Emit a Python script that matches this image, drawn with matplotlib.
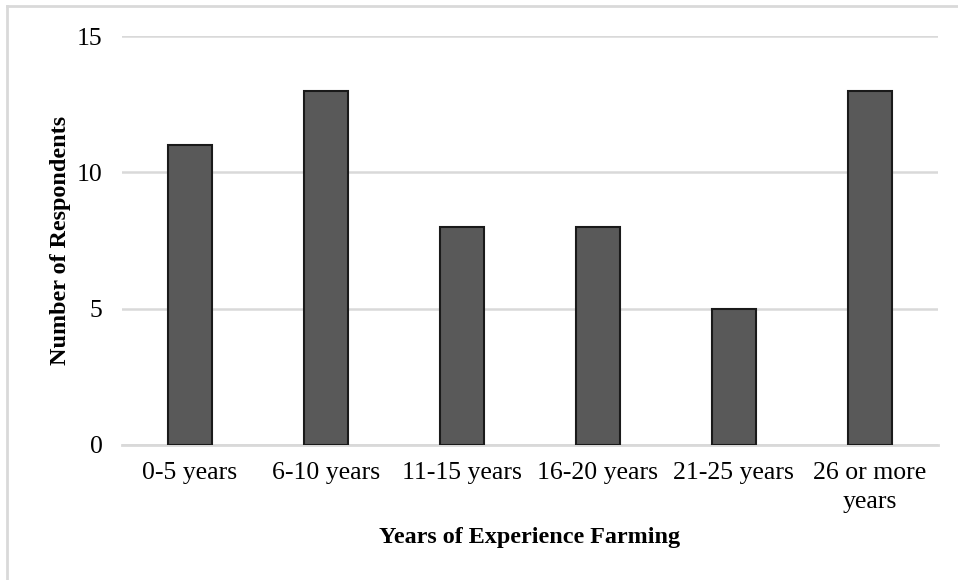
import matplotlib
matplotlib.use("Agg")
import matplotlib.pyplot as plt
from matplotlib.lines import Line2D

categories = ["0-5 years", "6-10 years", "11-15 years", "16-20 years",
              "21-25 years", "26 or more\nyears"]
respondents = [11, 13, 8, 8, 5, 13]
y_ticks = [0, 5, 10, 15]

plt.rcParams["font.family"] = ["Liberation Serif", "DejaVu Serif"]

fig = plt.figure(figsize=(9.58, 5.8), dpi=100)
ax = fig.add_axes([0.1273, 0.2328, 0.8517, 0.7051])

x = range(len(categories))
ax.bar(x, respondents, width=0.32, color="#595959", edgecolor="#1a1a1a",
       linewidth=1.5, zorder=3)

ax.set_xlim(-0.5, len(categories) - 0.5)
ax.set_ylim(0, 15)
ax.set_yticks(y_ticks)
ax.yaxis.grid(True, color="#d9d9d9", linewidth=1.8, zorder=0)
ax.set_axisbelow(True)

for side in ["top", "right", "left"]:
    ax.spines[side].set_visible(False)
ax.spines["bottom"].set_color("#d9d9d9")
ax.spines["bottom"].set_linewidth(2)

ax.set_xticks(list(x))
ax.set_xticklabels(categories, fontsize=18.5, linespacing=1.45)
ax.tick_params(axis="x", length=0, pad=12)
ax.tick_params(axis="y", length=0, pad=14, labelsize=18.5)

ax.set_xlabel("Years of Experience Farming", fontsize=17.4, fontweight="bold",
              labelpad=10)
ax.set_ylabel("Number of Respondents", fontsize=17.4, fontweight="bold",
              labelpad=4)

# light frame along the top and left edges of the figure
fig.add_artist(Line2D([7 / 958, 1], [1 - 6 / 580, 1 - 6 / 580],
                      transform=fig.transFigure, color="#d9d9d9", linewidth=2))
fig.add_artist(Line2D([7 / 958, 7 / 958], [0, 1 - 6 / 580],
                      transform=fig.transFigure, color="#d9d9d9", linewidth=2))

fig.savefig("out.png", dpi=100)
